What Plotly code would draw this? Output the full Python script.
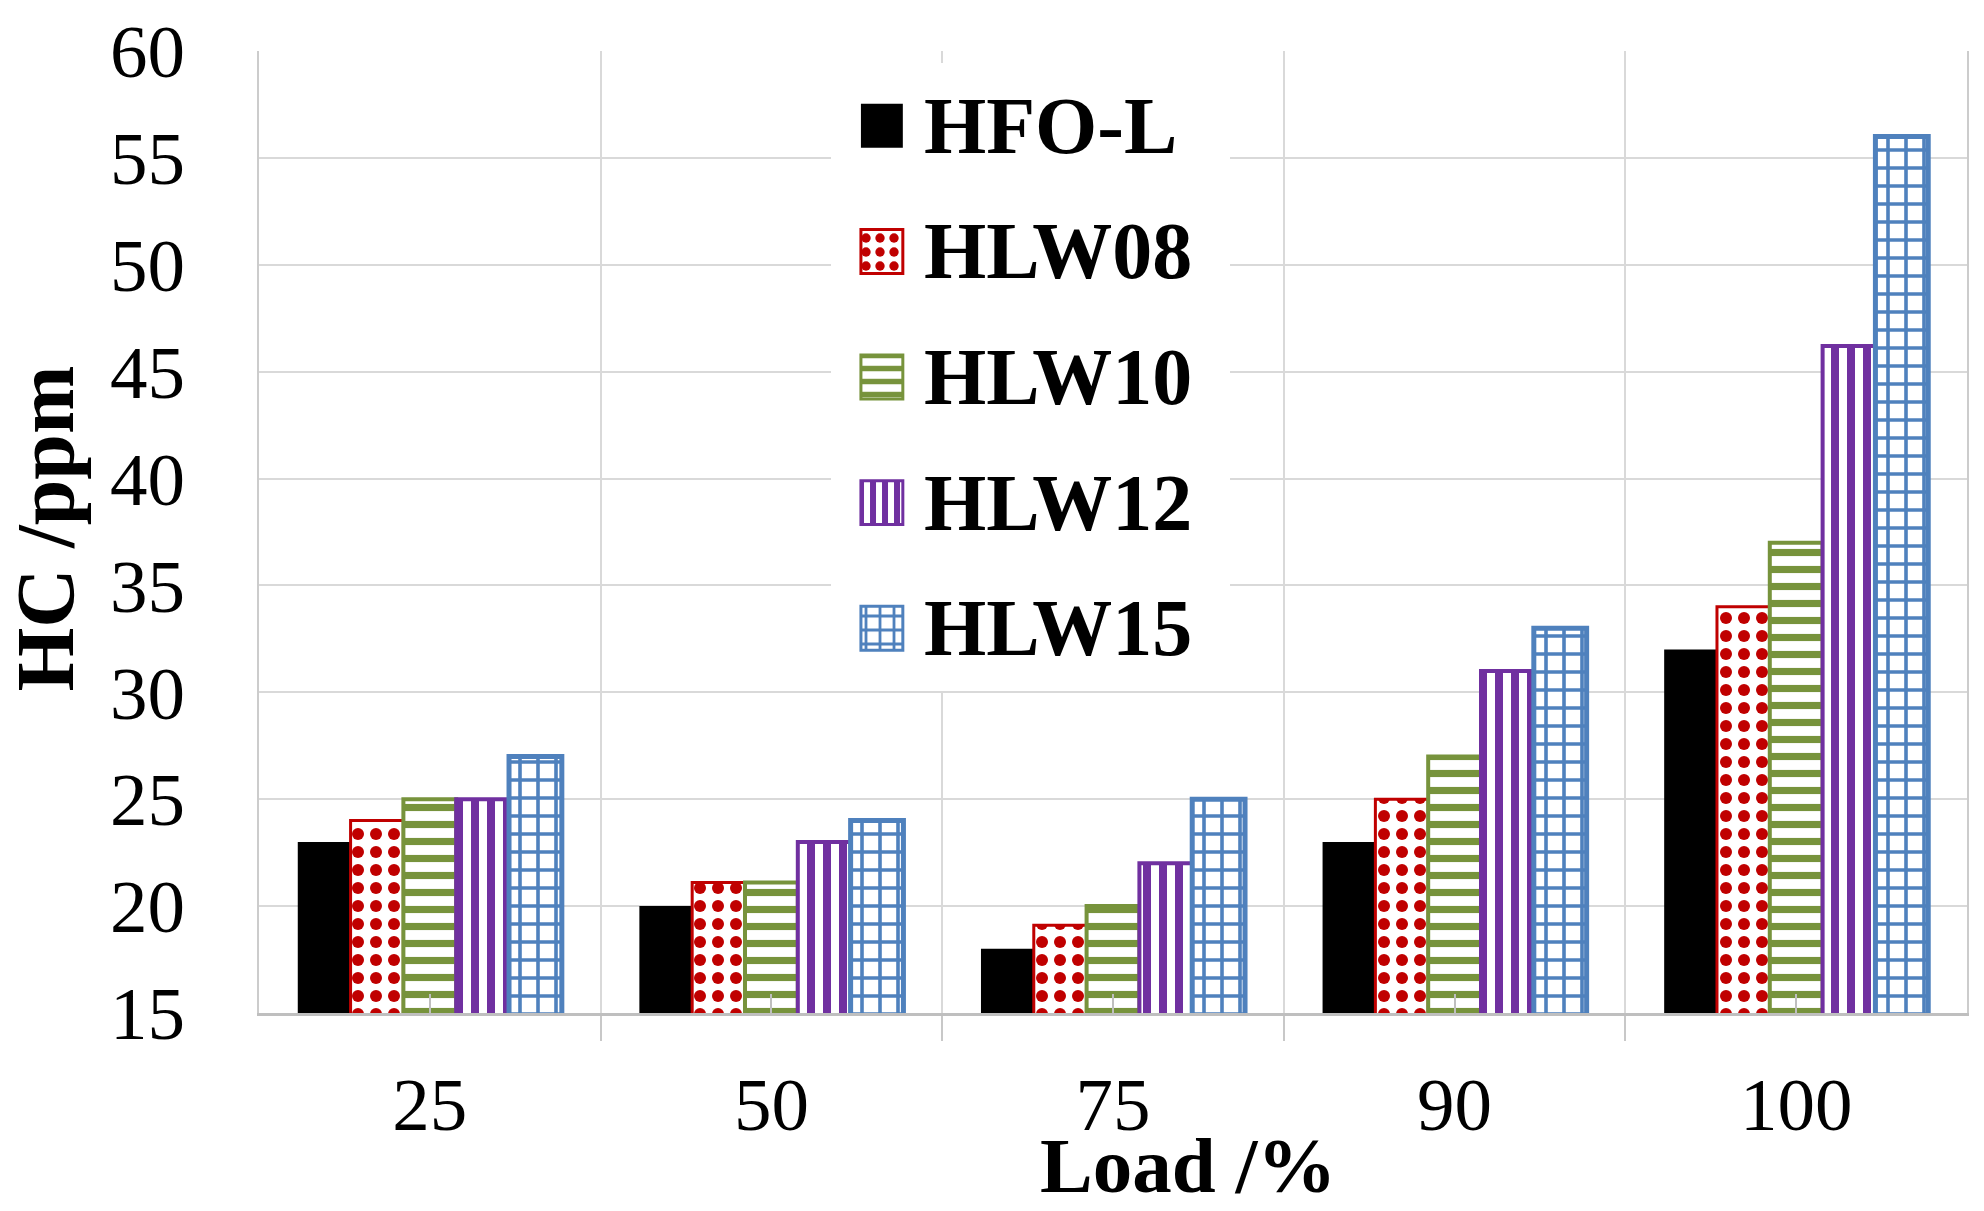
import plotly.graph_objects as go

loads = ["25", "50", "75", "90", "100"]
series_names = ["HFO-L", "HLW08", "HLW10", "HLW12", "HLW15"]
hfo_l = [23, 20, 18, 23, 32]
hlw08 = [24, 21.1, 19.1, 25, 34]
hlw10 = [25, 21.1, 20, 27, 37]
hlw12 = [25, 23, 22, 31, 46.2]
hlw15 = [27, 24, 25, 33, 56]
series_values = [hfo_l, hlw08, hlw10, hlw12, hlw15]
y_ticks = [15, 20, 25, 30, 35, 40, 45, 50, 55, 60]

colors = ["#000000", "#C00000", "#77933C", "#7030A0", "#4F81BD"]
shapes = ["", ".", "-", "|", "+"]
psizes = [10, 18, 17, 16, 18]
psolid = [0.3, 0.35, 0.42, 0.5, 0.36]
lwidth = [0, 3, 4, 4, 5]

FONT = "Liberation Serif"

fig = go.Figure()
xpos = list(range(len(loads)))


def marker_for(i, lw, size):
    fill = colors[i] if shapes[i] == "" else "white"
    m = dict(color=fill, line=dict(color=colors[i], width=lw))
    if shapes[i]:
        m["pattern"] = dict(shape=shapes[i], fgcolor=colors[i], bgcolor="white",
                            size=size, solidity=psolid[i], fgopacity=1,
                            fillmode="replace")
    return m


for i, name in enumerate(series_names):
    fig.add_trace(go.Bar(
        x=xpos, y=series_values[i], name=name, showlegend=False,
        marker=marker_for(i, lwidth[i], psizes[i]),
        hoverinfo="skip",
    ))

# legend box: inset axis; white panel + one key per series
n = len(series_names)
fig.add_trace(go.Bar(
    y=[(n - 1) / 2], x=[1], base=0, orientation="h", width=n, offset=-n / 2,
    xaxis="x2", yaxis="y2", showlegend=False,
    marker=dict(color="white", line=dict(width=0)), hoverinfo="skip",
))
for i, name in enumerate(series_names):
    fig.add_trace(go.Bar(
        y=[i], x=[0.105], base=0.075, orientation="h",
        width=0.35, offset=-0.175, xaxis="x2", yaxis="y2", showlegend=False,
        marker=marker_for(i, 0 if i == 0 else 3, max(psizes[i] - 4, 8)),
        hoverinfo="skip",
    ))

annotations = []
for i, name in enumerate(series_names):
    annotations.append(dict(
        x=0.388, xref="paper", y=i, yref="y2", xanchor="left", yanchor="middle",
        text="<b>" + name + "</b>", showarrow=False,
        font=dict(family=FONT, size=80, color="black"),
    ))
annotations.append(dict(
    x=0.544, xref="paper", y=-0.2058, yref="paper", xanchor="center", yanchor="bottom",
    text="<b>Load /%</b>", showarrow=False,
    font=dict(family=FONT, size=79, color="black"),
))
annotations.append(dict(
    x=-0.125, xref="paper", y=0.503, yref="paper", xanchor="center", yanchor="middle",
    text="<b>HC /ppm</b>", showarrow=False, textangle=-90,
    font=dict(family=FONT, size=82, color="black"),
))

fig.update_layout(
    width=1976, height=1203,
    margin=dict(l=251, r=17, t=43, b=198, autoexpand=False),
    paper_bgcolor="white", plot_bgcolor="white",
    barmode="group", bargap=0.227, bargroupgap=0,
    showlegend=False,
    font=dict(family=FONT, color="black"),
    xaxis=dict(
        range=[-0.5, 4.5], tickmode="array", tickvals=xpos, ticktext=loads,
        ticks="inside", ticklen=19, tickwidth=2, tickcolor="#BFBFBF",
        showgrid=False, zeroline=False, automargin=False,
        showline=True, linecolor="#BFBFBF", linewidth=3,
        tickfont=dict(family=FONT, size=75, color="black"),
        ticklabelstandoff=24,
        minor=dict(tickmode="linear", tick0=-0.5, dtick=1, ticks="outside",
                   ticklen=25, tickwidth=2, tickcolor="#C8C8C8",
                   showgrid=True, gridcolor="#D9D9D9", gridwidth=2),
    ),
    yaxis=dict(
        range=[15, 60], tickmode="array", tickvals=y_ticks,
        showgrid=True, gridcolor="#D9D9D9", gridwidth=2, zeroline=False,
        automargin=False,
        showline=True, linecolor="#CCCCCC", linewidth=2, mirror=True,
        ticks="", tickfont=dict(family=FONT, size=75, color="black"),
        ticklabelstandoff=57,
    ),
    xaxis2=dict(domain=[0.3349, 0.5685], range=[0, 1], visible=False,
                anchor="y2", fixedrange=True, automargin=False),
    yaxis2=dict(domain=[0.3347, 0.9875], range=[n - 0.5, -0.5], visible=False,
                anchor="x2", fixedrange=True, automargin=False),
    annotations=annotations,
)

fig.write_html("out.html")
